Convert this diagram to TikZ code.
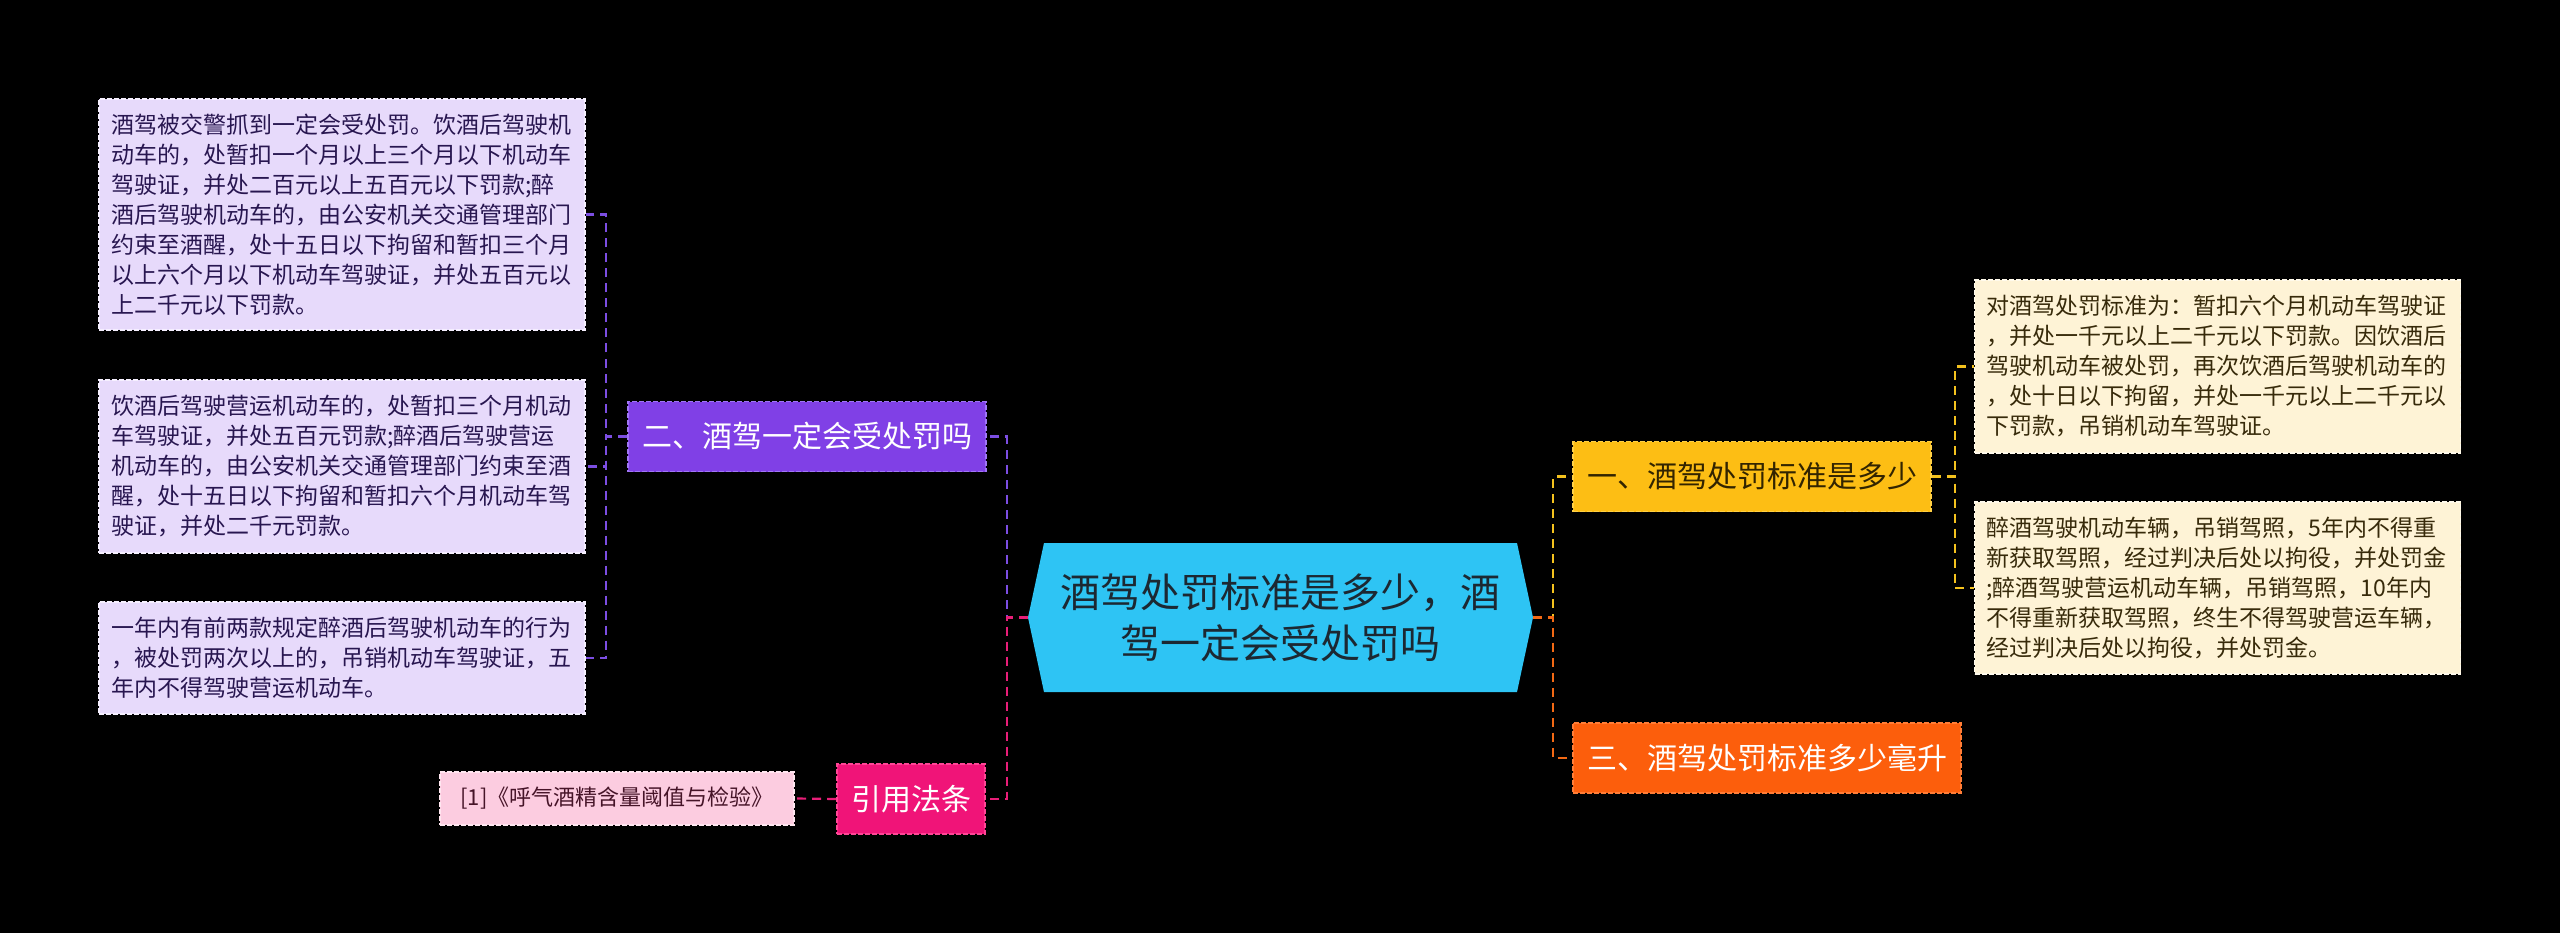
\documentclass[tikz,border=0pt]{standalone}
\usepackage{fontspec}
\setmainfont{Noto Sans CJK SC}
\usepackage{xcolor}
\usetikzlibrary{positioning}
\definecolor{MainCyan}{RGB}{46,196,244}
\definecolor{MainText}{RGB}{28,40,50}
\definecolor{PurpleFill}{RGB}{128,64,230}
\definecolor{PurpleEdge}{RGB}{160,118,246}
\definecolor{PurpleLine}{RGB}{124,78,226}
\definecolor{LavFill}{RGB}{231,218,251}
\definecolor{LavEdge}{RGB}{246,240,255}
\definecolor{LavText}{RGB}{40,22,80}
\definecolor{PinkFill}{RGB}{240,20,120}
\definecolor{PinkEdge}{RGB}{255,70,150}
\definecolor{PinkLine}{RGB}{232,30,120}
\definecolor{RoseFill}{RGB}{252,204,224}
\definecolor{RoseEdge}{RGB}{255,230,240}
\definecolor{RoseText}{RGB}{70,20,40}
\definecolor{GoldFill}{RGB}{253,190,20}
\definecolor{GoldEdge}{RGB}{255,208,70}
\definecolor{GoldLine}{RGB}{244,194,30}
\definecolor{GoldText}{RGB}{50,36,0}
\definecolor{CreamFill}{RGB}{254,243,214}
\definecolor{CreamEdge}{RGB}{255,250,236}
\definecolor{CreamText}{RGB}{55,42,10}
\definecolor{OrangeFill}{RGB}{252,94,12}
\definecolor{OrangeEdge}{RGB}{255,125,55}
\definecolor{OrangeLine}{RGB}{243,105,20}

\begin{document}
\begin{tikzpicture}[
  x=1pt, y=-1pt,
  branch/.style={
    draw,
    dash pattern=on 5pt off 2pt,
    line width=1.6pt,
    minimum height=70pt,
    inner xsep=14pt,
    align=center,
    font=\fontsize{30}{36}\selectfont
  },
  note/.style={
    draw,
    dash pattern=on 5pt off 2pt,
    line width=1.6pt,
    inner xsep=12pt
  },
  leaf/.style={
    note,
    text width=462pt,
    align=left,
    font=\fontsize{23}{30}\selectfont
  },
  link/.style={dash pattern=on 9pt off 6pt, line width=2.2pt}
]

\useasboundingbox (0,0) rectangle (2560,933);
\fill[black] (0,0) rectangle (2560,933);

\fill[MainCyan] (1044,543) -- (1517,543) -- (1533,617.5) -- (1517,692)
  -- (1044,692) -- (1028,617.5) -- cycle;

\node[text=MainText, align=center, minimum width=505pt, minimum height=149pt,
  font=\fontsize{40}{51}\selectfont] (main) at (1280.5,617.5)
  {酒驾处罚标准是多少，酒\\驾一定会受处罚吗};

\node[branch, fill=PurpleFill, draw=PurpleEdge, text=white, minimum width=358pt] (drunk) at (807,436.5)
  {二、酒驾一定会受处罚吗};

\node[branch, fill=PinkFill, draw=PinkEdge, text=white, minimum width=148pt] (cite) at (911,799)
  {引用法条};

\node[branch, fill=GoldFill, draw=GoldEdge, text=GoldText, minimum width=358pt] (penalty) at (1752,476.5)
  {一、酒驾处罚标准是多少};

\node[branch, fill=OrangeFill, draw=OrangeEdge, text=white, minimum width=388pt] (limit) at (1767,758)
  {三、酒驾处罚标准多少毫升};

\node[leaf, fill=LavFill, draw=LavEdge, text=LavText, minimum height=231pt] (police) at (342,214.5)
  {酒驾被交警抓到一定会受处罚。饮酒后驾驶机\\
   动车的，处暂扣一个月以上三个月以下机动车\\
   驾驶证，并处二百元以上五百元以下罚款;醉\\
   酒后驾驶机动车的，由公安机关交通管理部门\\
   约束至酒醒，处十五日以下拘留和暂扣三个月\\
   以上六个月以下机动车驾驶证，并处五百元以\\
   上二千元以下罚款。};

\node[leaf, fill=LavFill, draw=LavEdge, text=LavText, minimum height=173pt] (operate) at (342,466.5)
  {饮酒后驾驶营运机动车的，处暂扣三个月机动\\
   车驾驶证，并处五百元罚款;醉酒后驾驶营运\\
   机动车的，由公安机关交通管理部门约束至酒\\
   醒，处十五日以下拘留和暂扣六个月机动车驾\\
   驶证，并处二千元罚款。};

\node[leaf, fill=LavFill, draw=LavEdge, text=LavText, minimum height=112pt] (repeat) at (342,658)
  {一年内有前两款规定醉酒后驾驶机动车的行为\\
   ，被处罚两次以上的，吊销机动车驾驶证，五\\
   年内不得驾驶营运机动车。};

\node[note, fill=RoseFill, draw=RoseEdge, text=RoseText,
  minimum width=354pt, minimum height=53pt, font=\fontsize{22}{26}\selectfont] (source) at (617,798.5)
  {[1]《呼气酒精含量阈值与检验》};

\node[leaf, fill=CreamFill, draw=CreamEdge, text=CreamText, minimum height=173pt] (fine) at (2217.5,366.5)
  {对酒驾处罚标准为：暂扣六个月机动车驾驶证\\
   ，并处一千元以上二千元以下罚款。因饮酒后\\
   驾驶机动车被处罚，再次饮酒后驾驶机动车的\\
   ，处十日以下拘留，并处一千元以上二千元以\\
   下罚款，吊销机动车驾驶证。};

\node[leaf, fill=CreamFill, draw=CreamEdge, text=CreamText, minimum height=172pt] (revoke) at (2217.5,588)
  {醉酒驾驶机动车辆，吊销驾照，5年内不得重\\
   新获取驾照，经过判决后处以拘役，并处罚金\\
   ;醉酒驾驶营运机动车辆，吊销驾照，10年内\\
   不得重新获取驾照，终生不得驾驶营运车辆，\\
   经过判决后处以拘役，并处罚金。};

\draw[link, PurpleLine] (main.west) -- ++(-21,0) |- (drunk.east);
\draw[link, PinkLine] (main.west) -- ++(-21,0) |- (cite.east);
\draw[link, GoldLine] (main.east) -- ++(20,0) |- (penalty.west);
\draw[link, OrangeLine] (main.east) -- ++(20,0) |- (limit.west);

\draw[link, PurpleLine] (drunk.west) -- ++(-21,0) |- (police.east);
\draw[link, PurpleLine] (drunk.west) -- ++(-21,0) |- (operate.east);
\draw[link, PurpleLine] (drunk.west) -- ++(-21,0) |- (repeat.east);
\draw[link, PinkLine] (cite.west) -- (source.east);
\draw[link, GoldLine] (penalty.east) -- ++(23,0) |- (fine.west);
\draw[link, GoldLine] (penalty.east) -- ++(23,0) |- (revoke.west);

\end{tikzpicture}
\end{document}
